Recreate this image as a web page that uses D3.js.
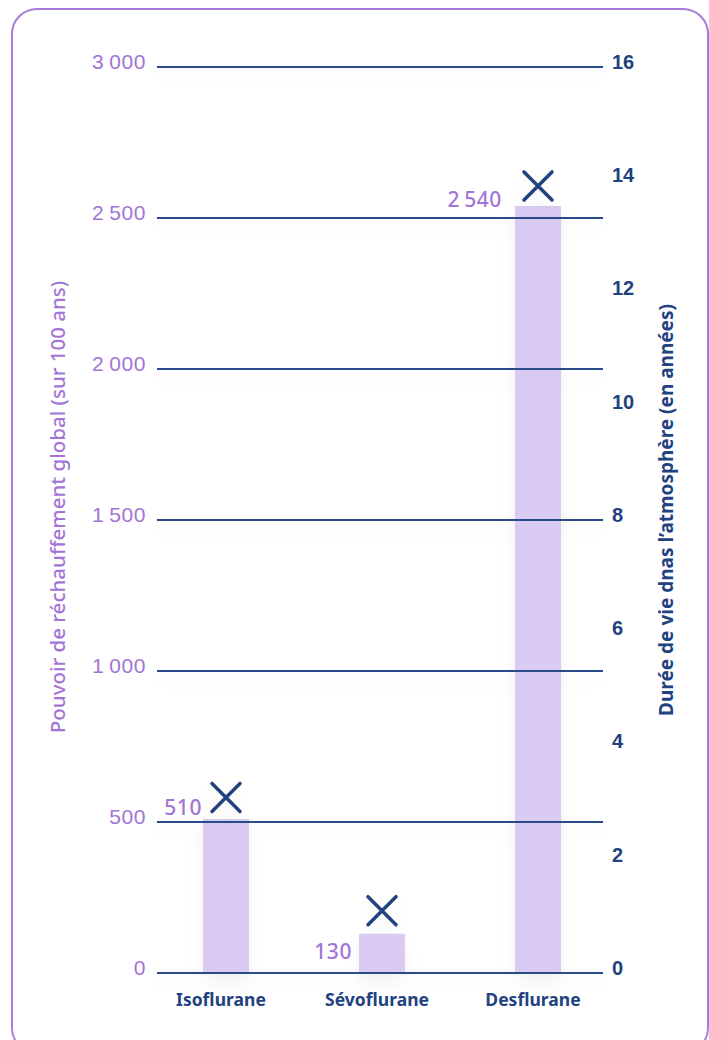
<!DOCTYPE html>
<html>
<head>
<meta charset="utf-8">
<script src="https://cdn.jsdelivr.net/npm/d3@7"></script>
<style>
  html, body { margin: 0; padding: 0; background: #fff; }
  svg { display: block; font-family: "Noto Sans", "Open Sans", sans-serif; }
</style>
</head>
<body>
<div class="canvas"></div>
<script>
const categories = ['Isoflurane', 'Sévoflurane', 'Desflurane'];
const warming = [510, 130, 2540];          // pouvoir de réchauffement global (100 ans)
const lifetime = [3.1, 1.1, 13.9];         // durée de vie (années)
const leftTicks = [0, 500, 1000, 1500, 2000, 2500, 3000];
const rightTicks = [0, 2, 4, 6, 8, 10, 12, 14, 16];

const purple = '#a274d6';
const navy = '#21427f';
const barFill = '#d9cbf2';

const svg = d3.select('.canvas')
    .append('svg')
    .attr('width', 709)
    .attr('height', 1040);

const defs = svg.append('defs');
const shadow = defs.append('filter')
    .attr('id', 'soft')
    .attr('filterUnits', 'userSpaceOnUse')
    .attr('x', 0).attr('y', 0)
    .attr('width', 709).attr('height', 1040);
shadow.append('feDropShadow')
    .attr('dx', 0).attr('dy', 8)
    .attr('stdDeviation', 8)
    .attr('flood-color', '#000')
    .attr('flood-opacity', 0.05);

// cadre arrondi
svg.append('rect')
    .attr('x', 12).attr('y', 9)
    .attr('width', 696).attr('height', 1044)
    .attr('rx', 25)
    .attr('fill', 'none')
    .attr('stroke', '#a77cda')
    .attr('stroke-width', 2);

const left = 157, right = 603;
const yLeft = d3.scaleLinear().domain([0, 3000]).range([973, 67]);
const yRight = d3.scaleLinear().domain([0, 16]).range([973, 67]);
const x = d3.scalePoint().domain(categories).range([226, 538]);
const barW = 46;

const fmt = d => d >= 1000 ? d3.format(',')(d).replace(',', '\u2009') : d;

// barres
svg.append('g')
    .selectAll('rect')
    .data(categories)
    .enter()
    .append('rect')
    .attr('x', d => x(d) - barW / 2)
    .attr('width', barW)
    .attr('y', (d, i) => yLeft(warming[i]))
    .attr('height', (d, i) => yLeft(0) - yLeft(warming[i]))
    .attr('fill', barFill)
    .attr('filter', 'url(#soft)');

// lignes de grille
svg.append('g')
    .selectAll('line')
    .data(leftTicks)
    .enter()
    .append('line')
    .attr('x1', left).attr('x2', right)
    .attr('y1', d => yLeft(d)).attr('y2', d => yLeft(d))
    .attr('stroke', '#2a4b8a')
    .attr('stroke-width', 2)
    .attr('filter', 'url(#soft)');

// axe gauche
const yAxisLeft = d3.axisLeft(yLeft)
    .tickValues(leftTicks)
    .tickSize(0)
    .tickPadding(11)
    .tickFormat(fmt);
const gl = svg.append('g')
    .attr('transform', `translate(${left},0)`)
    .call(yAxisLeft);
gl.select('.domain').remove();
gl.selectAll('text')
    .attr('dy', '0.32em')
    .attr('y', -5)
    .attr('fill', purple)
    .style('font-size', '21px')
    .style('font-weight', 500)
    .style('letter-spacing', '0.6px');

// axe droit
const yAxisRight = d3.axisRight(yRight)
    .tickValues(rightTicks)
    .tickSize(0)
    .tickPadding(9);
const gr = svg.append('g')
    .attr('transform', `translate(${right},0)`)
    .call(yAxisRight);
gr.select('.domain').remove();
gr.selectAll('text')
    .attr('dy', '0.32em')
    .attr('y', -5)
    .attr('fill', navy)
    .style('font-size', '20px')
    .style('font-weight', 700);

// étiquettes de catégories
svg.append('g')
    .selectAll('text')
    .data(categories)
    .enter()
    .append('text')
    .attr('x', d => x(d) - 5)
    .attr('y', 1006)
    .attr('text-anchor', 'middle')
    .attr('fill', navy)
    .style('font-size', '17.5px')
    .style('font-weight', 700)
    .text(d => d);

// valeurs au-dessus des barres
const labelDx = [-1, -7, -13];
const labelDy = [-4, 25, 1];
svg.append('g')
    .selectAll('text')
    .data(categories)
    .enter()
    .append('text')
    .attr('x', (d, i) => x(d) - barW / 2 + labelDx[i])
    .attr('y', (d, i) => yLeft(warming[i]) + labelDy[i])
    .attr('text-anchor', 'end')
    .attr('fill', purple)
    .style('font-size', '21px')
    .style('font-weight', 500)
    .style('letter-spacing', '0.6px')
    .text((d, i) => fmt(warming[i]));

// croix : durée de vie
const s = 14;
svg.append('g')
    .selectAll('path')
    .data(categories)
    .enter()
    .append('path')
    .attr('d', (d, i) => {
        const cx = x(d), cy = yRight(lifetime[i]);
        return `M${cx - s},${cy - s}L${cx + s},${cy + s}M${cx + s},${cy - s}L${cx - s},${cy + s}`;
    })
    .attr('fill', 'none')
    .attr('stroke', navy)
    .attr('stroke-width', 3.5)
    .attr('stroke-linecap', 'round')
    .attr('filter', 'url(#soft)');

// titres des axes
svg.append('text')
    .attr('transform', 'translate(58,507) rotate(-90)')
    .attr('text-anchor', 'middle')
    .attr('dy', '0.35em')
    .attr('fill', purple)
    .style('font-size', '20.5px')
    .style('font-weight', 500)
    .text('Pouvoir de réchauffement global (sur 100 ans)');

svg.append('text')
    .attr('transform', 'translate(666,510) rotate(-90)')
    .attr('text-anchor', 'middle')
    .attr('dy', '0.35em')
    .attr('fill', navy)
    .style('font-size', '19px')
    .style('font-weight', 700)
    .text('Durée de vie dnas l’atmosphère (en années)');
</script>
</body>
</html>
